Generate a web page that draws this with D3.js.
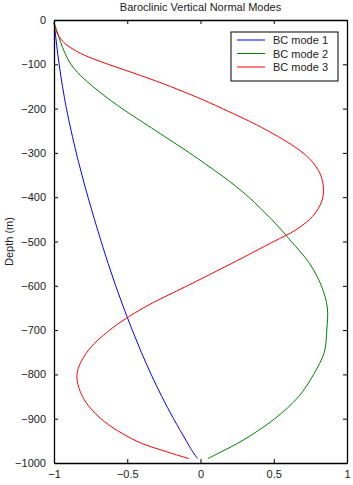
<!DOCTYPE html>
<html>
<head>
<meta charset="utf-8">
<script src="https://cdn.jsdelivr.net/npm/d3@7"></script>
<style>
  body { margin: 0; background: #fff; }
  svg text { font-family: "Liberation Sans", Arial, sans-serif; fill: #222; }
</style>
</head>
<body>
<div id="chart"></div>
<script>
// Depth samples (m) shared by all modes
var depths = [-5, -25, -50, -75, -100, -125, -150, -175, -200, -250, -300, -325, -350,
  -375, -400, -425, -450, -475, -500, -550, -600, -650, -700, -750, -800, -850, -900,
  -950, -975, -990];

// Mode shapes
var mode1 = [-1.0, -0.993, -0.984, -0.975, -0.965, -0.954, -0.942, -0.929, -0.915, -0.883,
  -0.848, -0.829, -0.809, -0.789, -0.768, -0.746, -0.724, -0.701, -0.678, -0.63, -0.579,
  -0.524, -0.466, -0.404, -0.337, -0.264, -0.184, -0.097, -0.052, -0.02];
var mode2 = [-1.0, -0.98, -0.955, -0.925, -0.885, -0.82, -0.735, -0.64, -0.535, -0.305,
  -0.075, 0.034, 0.14, 0.24, 0.33, 0.41, 0.485, 0.555, 0.62, 0.745, 0.825, 0.866, 0.862,
  0.845, 0.772, 0.67, 0.507, 0.283, 0.14, 0.05];
var mode3 = [-1.0, -0.985, -0.935, -0.82, -0.63, -0.41, -0.205, -0.02, 0.15, 0.46, 0.70,
  0.775, 0.82, 0.838, 0.835, 0.805, 0.745, 0.645, 0.5, 0.21, -0.09, -0.39, -0.62, -0.775,
  -0.843, -0.805, -0.68, -0.44, -0.227, -0.08];

var seriesNames = ["BC mode 1", "BC mode 2", "BC mode 3"];
var seriesColors = ["#0000ff", "#008000", "#ff0000"];
var xTicks = [-1, -0.5, 0, 0.5, 1];
var yTicks = [0, -100, -200, -300, -400, -500, -600, -700, -800, -900, -1000];

var width = 353, height = 485;
var margin = { left: 54, right: 6, top: 20, bottom: 22 };

var svg = d3.select("#chart").append("svg")
  .attr("width", width)
  .attr("height", height);

var x = d3.scaleLinear().domain([-1, 1]).range([margin.left, width - margin.right]);
var y = d3.scaleLinear().domain([0, -1000]).range([margin.top, height - margin.bottom]);

// Title
svg.append("text")
  .attr("x", (x(-1) + x(1)) / 2)
  .attr("y", 11)
  .attr("text-anchor", "middle")
  .style("font-size", "11px")
  .text("Baroclinic Vertical Normal Modes");

// Curves
var line = d3.line()
  .x(function (d) { return x(d[0]); })
  .y(function (d) { return y(d[1]); })
  .curve(d3.curveCatmullRom);

[mode1, mode2, mode3].forEach(function (vals, i) {
  svg.append("path")
    .datum(vals.map(function (v, j) { return [v, depths[j]]; }))
    .attr("fill", "none")
    .attr("stroke", seriesColors[i])
    .attr("stroke-width", 1)
    .attr("d", line);
});

// Axes, inward ticks on all four sides (MATLAB box style)
var tickFmt = function (d) { return d === 0 ? "0" : d3.format("")(d).replace("-", "\u2212"); };

svg.append("g")
  .attr("transform", "translate(0," + y(-1000) + ")")
  .call(d3.axisBottom(x).tickValues(xTicks).tickSizeInner(-4).tickSizeOuter(0).tickPadding(7).tickFormat(tickFmt));
svg.append("g")
  .attr("transform", "translate(0," + y(0) + ")")
  .call(d3.axisTop(x).tickValues(xTicks).tickSizeInner(-4).tickSizeOuter(0).tickFormat(""));
svg.append("g")
  .attr("transform", "translate(" + x(-1) + ",0)")
  .call(d3.axisLeft(y).tickValues(yTicks).tickSizeInner(-4).tickSizeOuter(0).tickPadding(8).tickFormat(tickFmt));
svg.append("g")
  .attr("transform", "translate(" + x(1) + ",0)")
  .call(d3.axisRight(y).tickValues(yTicks).tickSizeInner(-4).tickSizeOuter(0).tickFormat(""));

svg.selectAll(".domain").attr("stroke", "#000").attr("stroke-width", 1.3);
svg.selectAll(".tick line").attr("stroke", "#000");
svg.selectAll(".tick text").style("font-size", "11px").attr("fill", "#222");

// Y label
svg.append("text")
  .attr("transform", "translate(13," + y(-500) + ") rotate(-90)")
  .attr("text-anchor", "middle")
  .style("font-size", "11px")
  .text("Depth (m)");

// Legend
var legend = svg.append("g");
legend.append("rect")
  .attr("x", 231).attr("y", 32)
  .attr("width", 107).attr("height", 49)
  .attr("fill", "#fff")
  .attr("stroke", "#000")
  .attr("stroke-width", 1);

seriesNames.forEach(function (name, i) {
  var yy = 40 + i * 13.5;
  legend.append("line")
    .attr("x1", 237).attr("x2", 265)
    .attr("y1", yy).attr("y2", yy)
    .attr("stroke", seriesColors[i]);
  legend.append("text")
    .attr("x", 273).attr("y", yy + 4)
    .style("font-size", "11px")
    .text(name);
});
</script>
</body>
</html>
